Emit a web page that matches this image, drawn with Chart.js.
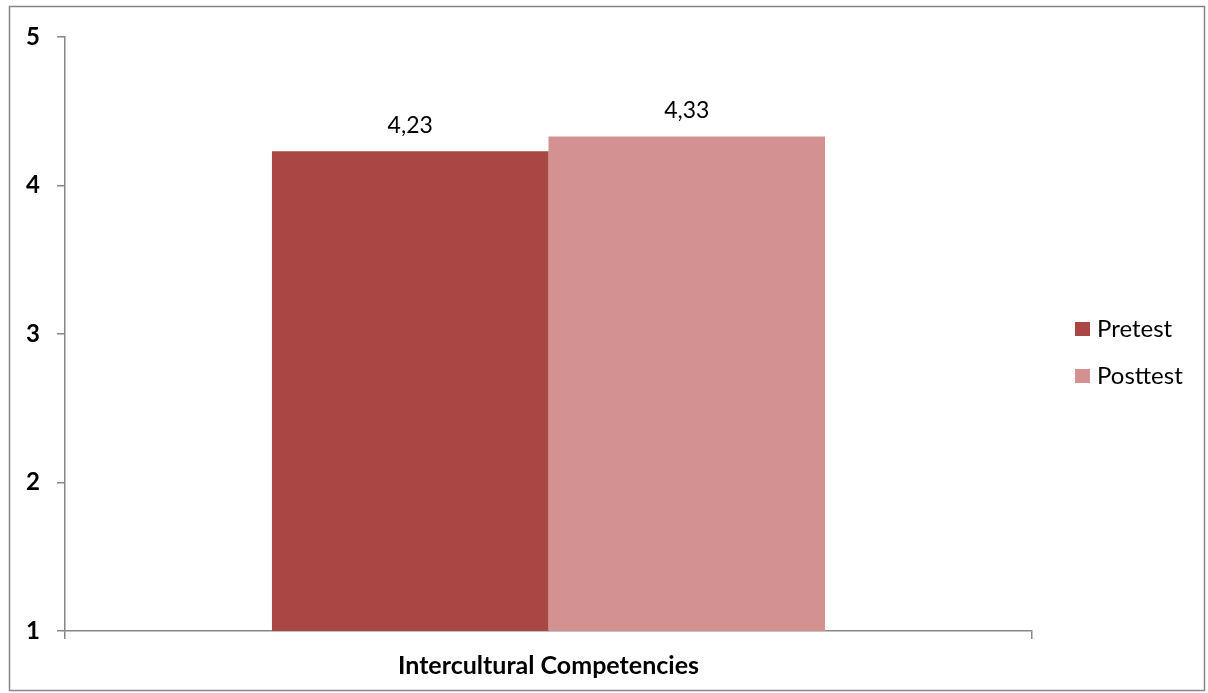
<!DOCTYPE html>
<html>
<head>
<meta charset="utf-8">
<script src="https://cdn.jsdelivr.net/npm/chart.js@4"></script>
<style>
html,body{margin:0;padding:0;background:#fff;}
#wrap{width:1208px;height:693px;position:relative;}
</style>
</head>
<body>
<div id="wrap"><canvas id="c" width="1208" height="693"></canvas></div>
<script>
const categories = ['Intercultural Competencies'];
const seriesNames = ['Pretest', 'Posttest'];
const pretestValues = [4.23];
const posttestValues = [4.33];
const yTicks = [1, 2, 3, 4, 5];
const seriesColors = ['#A94745', '#D39191'];

const FONT = 'Lato, "Open Sans", "Liberation Sans", sans-serif';
const AXIS = '#868686';

const frame = {
  id: 'frame',
  beforeDraw(chart) {
    const ctx = chart.ctx;
    ctx.save();
    ctx.fillStyle = '#fff';
    ctx.fillRect(0, 0, chart.width, chart.height);
    ctx.strokeStyle = AXIS;
    ctx.lineWidth = 1.5;
    ctx.strokeRect(9.5, 6.5, 1195, 684);
    ctx.restore();
  }
};

const valueLabels = {
  id: 'valueLabels',
  afterDatasetsDraw(chart) {
    const ctx = chart.ctx;
    ctx.save();
    ctx.font = '23px ' + FONT;
    ctx.fillStyle = '#000';
    ctx.textAlign = 'center';
    ctx.textBaseline = 'middle';
    chart.data.datasets.forEach((ds, i) => {
      chart.getDatasetMeta(i).data.forEach((bar, j) => {
        ctx.fillText(ds.data[j].toFixed(2).replace('.', ','), bar.x, bar.y - 26);
      });
    });
    ctx.restore();
  }
};

const sideLegend = {
  id: 'sideLegend',
  afterDraw(chart) {
    const ctx = chart.ctx;
    ctx.save();
    ctx.font = '24px ' + FONT;
    ctx.textBaseline = 'middle';
    ctx.textAlign = 'left';
    chart.data.datasets.forEach((ds, i) => {
      const y = 329 + i * 47;
      ctx.fillStyle = ds.backgroundColor;
      ctx.fillRect(1075, y - 7, 15, 14);
      ctx.fillStyle = '#000';
      ctx.fillText(ds.label, 1097, y);
    });
    ctx.restore();
  }
};

new Chart(document.getElementById('c'), {
  type: 'bar',
  data: {
    labels: categories,
    datasets: [
      { label: seriesNames[0], data: pretestValues, backgroundColor: seriesColors[0] },
      { label: seriesNames[1], data: posttestValues, backgroundColor: seriesColors[1] }
    ]
  },
  options: {
    responsive: false,
    animation: false,
    devicePixelRatio: 1,
    layout: { padding: { left: 0, top: 37, right: 1208 - 1032, bottom: 0 } },
    plugins: { legend: { display: false }, tooltip: { enabled: false } },
    datasets: { bar: { barPercentage: 1, categoryPercentage: 0.572 } },
    scales: {
      x: {
        grid: { drawOnChartArea: false, drawTicks: true, tickLength: 8, color: AXIS, lineWidth: 1.5 },
        border: { display: true, color: AXIS, width: 1.5 },
        ticks: { font: { family: FONT, size: 25, weight: 'bold' }, color: '#000', padding: 12 },
        afterFit(s) { s.height = 62; }
      },
      y: {
        min: 1, max: 5,
        afterBuildTicks(s) { s.ticks = yTicks.map(v => ({ value: v })); },
        grid: { drawOnChartArea: false, drawTicks: true, tickLength: 8, color: AXIS, lineWidth: 1.5 },
        border: { display: true, color: AXIS, width: 1.5 },
        ticks: { font: { family: FONT, size: 24, weight: 'bold' }, color: '#000', padding: 17 },
        afterFit(s) { s.width = 65; }
      }
    }
  },
  plugins: [frame, valueLabels, sideLegend]
});
</script>
</body>
</html>
